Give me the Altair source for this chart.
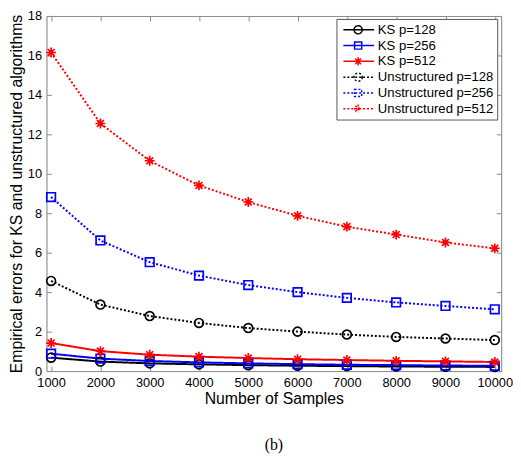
import altair as alt
import pandas as pd

samples = [1000, 2000, 3000, 4000, 5000, 6000, 7000, 8000, 9000, 10000]
ks128 = [0.68, 0.48, 0.39, 0.34, 0.30, 0.27, 0.25, 0.23, 0.22, 0.21]
ks256 = [0.88, 0.63, 0.51, 0.44, 0.39, 0.35, 0.32, 0.30, 0.28, 0.27]
ks512 = [1.42, 1.01, 0.83, 0.73, 0.66, 0.60, 0.56, 0.52, 0.49, 0.46]
un128 = [4.57, 3.37, 2.79, 2.44, 2.18, 2.00, 1.85, 1.73, 1.65, 1.57]
un256 = [8.82, 6.62, 5.52, 4.84, 4.36, 4.00, 3.71, 3.48, 3.30, 3.13]
un512 = [16.15, 12.55, 10.66, 9.41, 8.57, 7.87, 7.32, 6.92, 6.52, 6.22]

series_names = ["KS p=128", "KS p=256", "KS p=512",
                "Unstructured p=128", "Unstructured p=256", "Unstructured p=512"]
series_values = [ks128, ks256, ks512, un128, un256, un512]
series_p = ["128", "256", "512", "128", "256", "512"]
colors = ["#000000", "#0000ff", "#ff0000", "#000000", "#0000ff", "#ff0000"]
dashes = [[1, 0], [1, 0], [1, 0], [2, 2], [2, 2], [2, 2]]

x_ticks = samples
y_ticks = [0, 2, 4, 6, 8, 10, 12, 14, 16, 18]

rows = []
for name, vals, p in zip(series_names, series_values, series_p):
    for s, v in zip(samples, vals):
        rows.append({"samples": s, "value": v, "series": name, "p": p})
df = pd.DataFrame(rows)

W, H = 461, 360
FONT = "Liberation Sans"
GRAY = "#8a8a8a"

ASTER = "M-1,0L1,0M0,-1L0,1M-0.7,-0.7L0.7,0.7M-0.7,0.7L0.7,-0.7"

# legend symbol paths (unit = 18 px)
L0, L1 = -0.83, 0.9
def dotted(a, b, dot=0.111, gap=0.111):
    segs = []
    x = a
    while x < b:
        segs.append("M%.3f,0H%.3f" % (x, min(x + dot, b)))
        x += dot + gap
    return "".join(segs)

solid_line = "M%.2f,0H%.2f" % (L0, L1)
dot_line = dotted(L0, L1)
r = 0.23
circ = "M%.2f,0A%.2f,%.2f 0 1,1 %.2f,0A%.2f,%.2f 0 1,1 %.2f,0Z" % (r, r, r, -r, r, r, r)
sq = "M-0.2,-0.2H0.2V0.2H-0.2Z"
ast = "M-%.2f,0L%.2f,0M0,-%.2fL0,%.2fM-0.16,-0.16L0.16,0.16M-0.16,0.16L0.16,-0.16" % (r, r, r, r)
markers = [circ, sq, ast, circ, sq, ast]
legend_paths = []
for i in range(6):
    legend_paths.append((solid_line if i < 3 else dot_line) + markers[i])


def make_legend():
    return alt.Legend(
        orient="none", legendX=294, legendY=3, title=None,
        padding=3, strokeColor="#555555", fillColor="white",
        symbolSize=1296, symbolStrokeWidth=1.5, symbolOpacity=1,
        symbolFillColor="transparent",
        labelFont=FONT, labelFontSize=13.3, labelColor="black",
        labelOffset=1, rowPadding=0, clipHeight=16,
    )


def color_enc():
    return alt.Color("series:N",
                     scale=alt.Scale(domain=series_names, range=colors),
                     sort=series_names, legend=make_legend())


xscale = alt.Scale(domain=[906, 10130], nice=False, zero=False)
yscale = alt.Scale(domain=[0, 18], nice=False)

axis_common = dict(grid=False, tickSize=5, tickColor=GRAY, domainColor=GRAY,
                   tickWidth=1, domainWidth=1)

x_axis_a = alt.Axis(
    orient="top", offset=-H, values=x_ticks, format="d",
    labelBaseline="top", labelPadding=-11, labelFont=FONT, labelFontSize=13,
    labelColor="black", labelFlush=False, labelOverlap=False, labelAngle=0,
    title="Number of Samples", titleX=W / 2, titleY=33, titleBaseline="alphabetic",
    titleAlign="center", titleFont=FONT, titleFontSize=16, titleFontWeight="normal",
    titleColor="black", **axis_common)
y_axis_a = alt.Axis(
    orient="right", offset=-W, values=y_ticks, format="d",
    labelAlign="right", labelBaseline="middle", labelPadding=-10, labelFont=FONT,
    labelFontSize=13, labelColor="black", labelFlush=False, labelOverlap=False,
    title="Empirical errors for KS and unstructured algorithms",
    titleAngle=270, titleX=-25, titleY=H / 2, titleAlign="center",
    titleBaseline="alphabetic", titleFont=FONT, titleFontSize=16,
    titleFontWeight="normal", titleColor="black", **axis_common)
x_axis_b = alt.Axis(orient="bottom", offset=-H, values=x_ticks, labels=False,
                    title="", **axis_common)
y_axis_b = alt.Axis(orient="left", offset=-W, values=y_ticks, labels=False,
                    title="", **axis_common)

base = alt.Chart(df)

lines = base.mark_line(strokeWidth=2).encode(
    x=alt.X("samples:Q", scale=xscale, axis=x_axis_a),
    y=alt.Y("value:Q", scale=yscale, axis=y_axis_a),
    color=color_enc(),
    strokeDash=alt.StrokeDash("series:N",
                              scale=alt.Scale(domain=series_names, range=dashes),
                              sort=series_names, legend=None),
    order="samples:Q",
)

marker_shapes = {"128": ("circle", 81), "256": ("square", 76), "512": (ASTER, 100)}
point_layers = []
for p, (shp, sz) in marker_shapes.items():
    point_layers.append(
        base.transform_filter(alt.datum.p == p)
        .mark_point(filled=False, size=sz, strokeWidth=1.7, opacity=1, shape=shp)
        .encode(
            x=alt.X("samples:Q", scale=xscale, axis=x_axis_b),
            y=alt.Y("value:Q", scale=yscale, axis=y_axis_b),
            color=color_enc(),
        )
    )

# invisible layer that only supplies the legend symbols (line + marker)
legend_helper = base.mark_point(filled=False, opacity=0, size=1).encode(
    x=alt.X("samples:Q", scale=xscale, axis=x_axis_b),
    y=alt.Y("value:Q", scale=yscale, axis=y_axis_b),
    color=color_enc(),
    shape=alt.Shape("series:N",
                    scale=alt.Scale(domain=series_names, range=legend_paths),
                    sort=series_names, legend=make_legend()),
)

inner = alt.layer(*point_layers, legend_helper)

chart = alt.layer(lines, inner).resolve_axis(
    x="independent", y="independent"
).properties(
    width=W, height=H,
    autosize=alt.AutoSizeParams(type="none"),
    padding={"left": 39, "top": 5, "right": 12, "bottom": 82},
    title=alt.TitleParams("(b)", orient="bottom", anchor="middle", offset=31,
                          font="Liberation Serif", fontSize=16,
                          fontWeight="normal", color="black"),
).configure_view(stroke=None).configure(background="white")

chart.save("out.html", embed_options={"renderer": "svg", "actions": False})
